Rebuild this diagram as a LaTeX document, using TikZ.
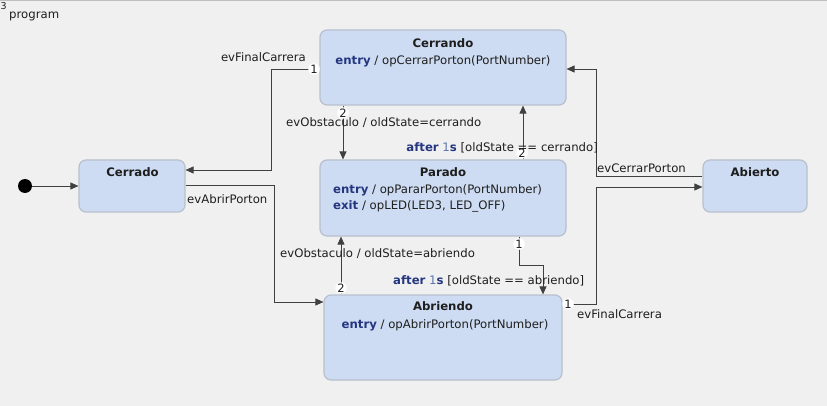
\documentclass[tikz,border=0pt]{standalone}
\usepackage{fontspec}
\setmainfont{DejaVu Sans}
\usetikzlibrary{positioning,arrows.meta,calc}
\definecolor{bgc}{RGB}{240,240,240}
\definecolor{stfill}{RGB}{205,220,242}
\definecolor{stline}{RGB}{184,192,206}
\definecolor{txt}{RGB}{30,30,30}
\definecolor{kwc}{RGB}{36,54,128}
\definecolor{numc}{RGB}{90,118,168}
\definecolor{wire}{RGB}{64,64,64}
\newcommand{\kw}[1]{\textcolor{kwc}{\textbf{#1}}}

\begin{document}
\begin{tikzpicture}[x=1pt, y=-1pt,
  lbl/.style={inner sep=0pt, text=txt, font=\fontsize{11.7}{14}\selectfont, text height=8.6pt, text depth=2.4pt},
  ttl/.style={lbl, font=\fontsize{11.7}{14}\selectfont\bfseries}]
\tikzstyle{st}=[draw=stline, fill=stfill, rounded corners=7pt, line width=1.2pt, inner sep=0pt]
\tikzstyle{num}=[circle, fill=white, inner sep=0pt, minimum size=11.5pt, text=txt, font=\fontsize{11.5}{12}\selectfont]
\tikzstyle{arr}=[draw=wire, line width=0.9pt, -{Triangle[length=8pt,width=7pt]}]

% frame
\fill[bgc] (0,0) rectangle (827,406);
\useasboundingbox (0,0) rectangle (827,406);
\draw[black!25, line width=1pt] (0,1) -- (827,1);
\node[lbl, anchor=north west, font=\fontsize{9.5}{10}\selectfont, text height=7pt, text depth=0pt] (nr) at (0.5,2.5) {3};
\node[lbl, anchor=west] (prog) at (9,15) {program};

% states
\node[circle, fill=black, inner sep=0pt, minimum size=14pt] (init) at (25,186) {};
\node[st, minimum width=106pt, minimum height=52pt] (cerrado) at (132,186) {};
\node[st, minimum width=246pt, minimum height=75pt] (cerrando) at (443,67.5) {};
\node[st, minimum width=246pt, minimum height=76pt] (parado) at (443,198) {};
\node[st, minimum width=238pt, minimum height=85pt] (abriendo) at (443,337.5) {};
\node[st, minimum width=104pt, minimum height=52pt] (abierto) at (755,186) {};

\node[ttl] (tcerrado) at (132.5,173) {Cerrado};
\node[ttl] (tcerrando) at (443,44) {Cerrando};
\node[lbl] (ecerrando) at (443,61) {\kw{entry} / opCerrarPorton(PortNumber)};
\node[ttl] (tparado) at (443,173) {Parado};
\node[lbl, anchor=west] (eparado) at (333,190) {\kw{entry} / opPararPorton(PortNumber)};
\node[lbl, anchor=west] (xparado) at (333,206) {\kw{exit} / opLED(LED3, LED\_OFF)};
\node[ttl] (tabriendo) at (443,307) {Abriendo};
\node[lbl] (eabriendo) at (445,325) {\kw{entry} / opAbrirPorton(PortNumber)};
\node[ttl] (tabierto) at (755,173) {Abierto};

% transitions
\draw[arr] (init) -- (cerrado);
\draw[arr] ([yshift=-1.5]cerrando.west) -- ++(-48,0) |- ([yshift=16]cerrado.east);
\draw[arr] ([yshift=1]cerrado.east) -- ++(89,0) |- ([yshift=35.5]abriendo.west);
\draw[arr] ([xshift=-100]cerrando.south) -- ([xshift=-100]parado.north);
\draw[arr] ([xshift=80]parado.north) -- ([xshift=80]cerrando.south);
\draw[arr] ([xshift=-102]abriendo.north) -- ([xshift=-102]parado.south);
\draw[arr] ([xshift=76]parado.south) -- ++(0,29) -| ([xshift=100]abriendo.north);
\draw[arr] ([yshift=33.5]abriendo.east) -- ++(34,0) |- ([yshift=-1]abierto.west);
\draw[arr] ([yshift=10]abierto.west) -- ++(-106,0) |- ([yshift=-1.5]cerrando.east);

% priorities
\foreach \p/\n [count=\i] in {{314,69}/1, {343,113}/2, {522,153}/2, {341,288}/2, {519,244}/1, {568,304}/1}
  {\node[num] (b\i) at (\p) {\n};}

% labels
\node[lbl, anchor=east] (l1) at (306,58) {evFinalCarrera};
\node[lbl, anchor=west] (l2) at (187,200) {evAbrirPorton};
\node[lbl, anchor=west] (l3) at (286,123) {evObstaculo / oldState=cerrando};
\node[lbl, anchor=east] (l4) at (598,148) {\kw{after} \textcolor{numc}{1}\kw{s} [oldState == cerrando]};
\node[lbl, anchor=west] (l5) at (280,254) {evObstaculo / oldState=abriendo};
\node[lbl, anchor=west] (l6) at (393,281) {\kw{after} \textcolor{numc}{1}\kw{s} [oldState == abriendo]};
\node[lbl, anchor=west] (l7) at (577,315) {evFinalCarrera};
\node[lbl, anchor=west] (l8) at (597,169) {evCerrarPorton};
\end{tikzpicture}
\end{document}
